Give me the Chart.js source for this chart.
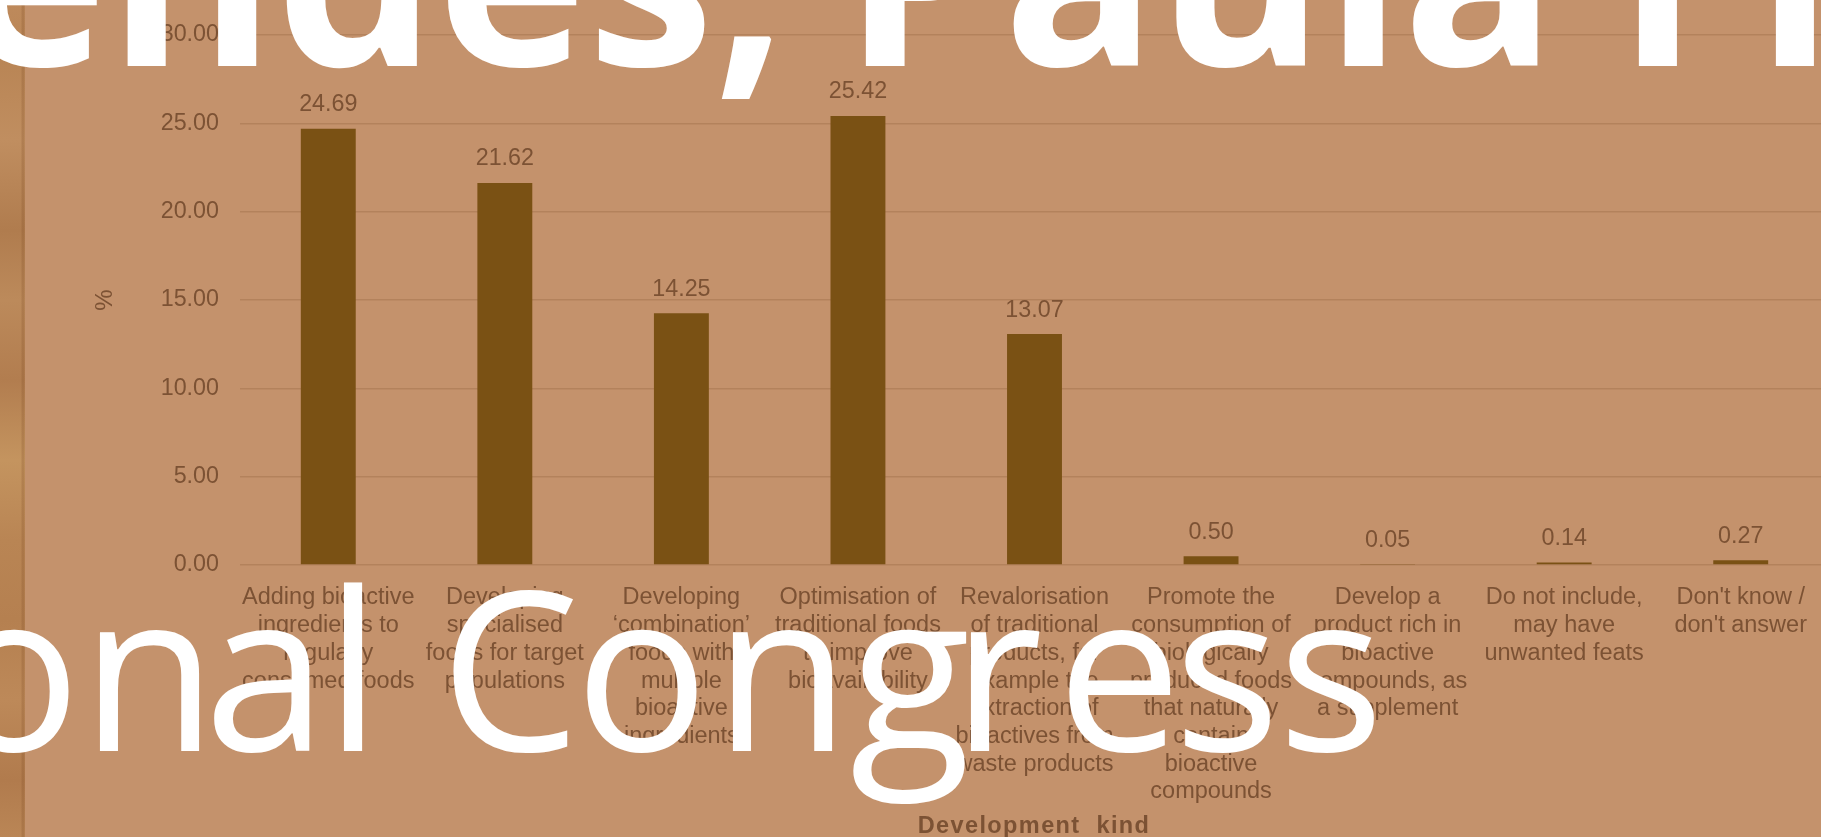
<!DOCTYPE html>
<html>
<head>
<meta charset="utf-8">
<script src="https://cdn.jsdelivr.net/npm/chart.js@4.4.1/dist/chart.umd.min.js"></script>
<style>
html,body{margin:0;padding:0;width:1821px;height:837px;overflow:hidden;background:#C4926C;}
#wrap{position:absolute;left:0;top:0;width:1821px;height:837px;overflow:hidden;background:#C4926C;}
#wood{position:absolute;left:0;top:0;width:25px;height:837px;
 background:
  linear-gradient(to right, rgba(0,0,0,0) 0px, rgba(0,0,0,0) 21px, rgba(120,70,30,0.22) 22px, rgba(120,70,30,0.22) 24px, rgba(0,0,0,0) 25px),
  linear-gradient(to bottom, #BE8A5C 0px, #B98555 60px, #C08E60 140px, #B07C4E 230px, #BC8A5B 300px, #B27D4F 380px, #C4945F 460px, #B98554 540px, #B58050 620px, #BD8959 700px, #B17B4D 780px, #BA8656 837px);}
#chartbox{position:absolute;left:0;top:0;width:1840px;height:837px;}
#overlay{position:absolute;left:0;top:0;width:1821px;height:837px;pointer-events:none;}
</style>
</head>
<body>
<div id="wrap">
  <div id="wood"></div>
  <div id="chartbox"><canvas id="c" width="1840" height="837"></canvas></div>
  <svg id="overlay" width="1821" height="837" xmlns="http://www.w3.org/2000/svg">
    <text y="66" font-family="'Open Sans'" font-weight="700" font-size="255" fill="#FFFFFF"><tspan x="-43">endes, </tspan><tspan x="843">Paula </tspan><tspan x="1616">Fr</tspan></text>
    <text x="-53 81 204 325 381 440 575 714 850 952 1057 1174 1278" y="751" font-family="'Open Sans'" font-weight="400" font-size="222" fill="#FFFFFF">onal Congress</text>
  </svg>
</div>
<script>
const categoryLabels = [
  ["Adding bioactive","ingredients to","regularly","consumed foods"],
  ["Developing","specialised","foods for target","populations"],
  ["Developing","\u2018combination\u2019","foods with","multiple","bioactive","ingredients"],
  ["Optimisation of","traditional foods","to improve","bioavailability"],
  ["Revalorisation","of traditional","products, for","example the","extraction of","bioactives from","waste products"],
  ["Promote the","consumption of","biologically","produced foods","that naturally","contain","bioactive","compounds"],
  ["Develop a","product rich in","bioactive","compounds, as","a supplement"],
  ["Do not include,","may have","unwanted feats"],
  ["Don't know /","don't answer"]
];
const percentValues = [24.69, 21.62, 14.25, 25.42, 13.07, 0.50, 0.05, 0.14, 0.27];
const yTickValues = [0, 5, 10, 15, 20, 25, 30];
const xTitle = "Development  kind";
const yTitle = "%";

const TEXT = '#7C5234';
const GRID = '#B3825C';
const BAR = '#7A5114';
const FONT = "'Liberation Sans', Arial, sans-serif";

const valueLabels = {
  id: 'valueLabels',
  afterDatasetsDraw(chart) {
    const ctx = chart.ctx;
    const meta = chart.getDatasetMeta(0);
    ctx.save();
    ctx.font = '23.3px ' + FONT;
    ctx.fillStyle = TEXT;
    ctx.textAlign = 'center';
    ctx.textBaseline = 'middle';
    meta.data.forEach((el, i) => {
      ctx.fillText(percentValues[i].toFixed(2), el.x, el.y - 24);
    });
    ctx.restore();
  }
};

const xTitlePlugin = {
  id: 'xTitlePlugin',
  afterDraw(chart) {
    const ctx = chart.ctx;
    ctx.save();
    ctx.font = 'bold 23.5px ' + FONT;
    if ('letterSpacing' in ctx) ctx.letterSpacing = '1.4px';
    ctx.fillStyle = TEXT;
    ctx.textAlign = 'center';
    ctx.textBaseline = 'alphabetic';
    ctx.fillText(xTitle, 1034, 833);
    ctx.restore();
  }
};

new Chart(document.getElementById('c'), {
  type: 'bar',
  data: {
    labels: categoryLabels,
    datasets: [{
      data: percentValues,
      backgroundColor: BAR,
      borderWidth: 0,
      barPercentage: 0.311,
      categoryPercentage: 1.0
    }]
  },
  options: {
    responsive: false,
    animation: false,
    events: [],
    layout: { padding: { left: 0, right: 11, top: 31, bottom: 0 } },
    plugins: { legend: { display: false }, tooltip: { enabled: false } },
    scales: {
      x: {
        grid: { display: false, drawTicks: false },
        border: { display: false },
        ticks: {
          color: TEXT,
          font: { family: FONT, size: 23.5, lineHeight: 1.18 },
          padding: 19,
          maxRotation: 0,
          minRotation: 0,
          autoSkip: false
        },
        title: { display: false },
        afterFit(s) { s.height = 272; }
      },
      y: {
        min: 0,
        max: 30,
        grid: { color: GRID, lineWidth: 1.5, drawTicks: false },
        border: { display: false },
        afterBuildTicks(s) { s.ticks = yTickValues.map(v => ({ value: v })); },
        ticks: {
          color: TEXT,
          font: { family: FONT, size: 23.3 },
          padding: 21,
          callback: v => Number(v).toFixed(2)
        },
        title: {
          display: true,
          text: yTitle,
          color: TEXT,
          font: { family: FONT, size: 24, lineHeight: 1.2 },
          padding: { top: 91, bottom: 0 }
        },
        afterFit(s) { s.width = 240; }
      }
    }
  },
  plugins: [valueLabels, xTitlePlugin]
});
</script>
</body>
</html>
